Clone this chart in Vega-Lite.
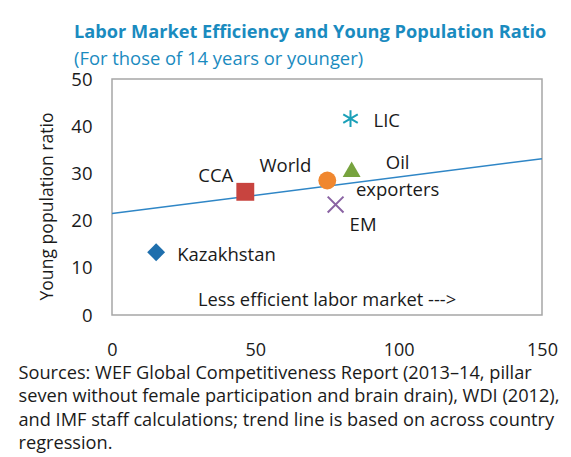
{
  "$schema": "https://vega.github.io/schema/vega-lite/v6.json",
  "autosize": "none",
  "width": 430,
  "height": 236,
  "padding": {"left": 112, "top": 79, "right": 29, "bottom": 142},
  "background": "white",
  "config": {
    "font": "Open Sans",
    "view": {"stroke": "#a6a6a6", "strokeWidth": 1.5},
    "text": {"lineBreak": "\n"}
  },
  "title": {
    "text": "Labor Market Efficiency and Young Population Ratio",
    "subtitle": "(For those of 14 years or younger)",
    "anchor": "start",
    "frame": "group",
    "dx": -38,
    "offset": 1,
    "font": "Open Sans",
    "fontSize": 18.2,
    "fontWeight": "bold",
    "color": "#1a8bbf",
    "subtitleFont": "Open Sans",
    "subtitleFontSize": 18.4,
    "subtitleColor": "#1a8bbf",
    "subtitlePadding": 7
  },
  "datasets": {
    "points": [
      {"name": "Kazakhstan", "label": "Kazakhstan", "efficiency": 15.4, "ratio": 13.3},
      {"name": "CCA", "label": "CCA", "efficiency": 46.5, "ratio": 26.1},
      {"name": "World", "label": "World", "efficiency": 75.1, "ratio": 28.5},
      {"name": "Oil exporters", "label": "Oil\nexporters", "efficiency": 83.6, "ratio": 30.9},
      {"name": "EM", "label": "EM", "efficiency": 78.0, "ratio": 23.4},
      {"name": "LIC", "label": "LIC", "efficiency": 83.2, "ratio": 41.6}
    ],
    "trend": [
      {"efficiency": 0, "ratio": 21.5},
      {"efficiency": 150, "ratio": 33.1}
    ],
    "note": [
      {"efficiency": 75, "ratio": 3, "text": "Less efficient labor market --->"}
    ]
  },
  "encoding": {
    "x": {
      "field": "efficiency",
      "type": "quantitative",
      "scale": {"domain": [0, 150], "nice": false, "zero": false},
      "axis": {
        "values": [0, 50, 100, 150],
        "grid": false,
        "ticks": false,
        "domain": false,
        "labelFontSize": 18,
        "labelColor": "#1a1a1a",
        "labelPadding": 26,
        "labelFlush": false,
        "title": [
          "Sources: WEF Global Competitiveness Report (2013–14, pillar",
          "seven without female participation and brain drain), WDI (2012),",
          "and IMF staff calculations; trend line is based on across country",
          "regression."
        ],
        "titleAnchor": "start",
        "titleAlign": "left",
        "titleBaseline": "top",
        "titleX": -94,
        "titleY": 49,
        "titleFontSize": 18.2,
        "titleFontWeight": "normal",
        "titleColor": "#1a1a1a",
        "titleLineHeight": 23.5
      }
    },
    "y": {
      "field": "ratio",
      "type": "quantitative",
      "scale": {"domain": [0, 50], "nice": false},
      "axis": {
        "values": [0, 10, 20, 30, 40, 50],
        "grid": false,
        "ticks": false,
        "domain": false,
        "labelFontSize": 18.5,
        "labelColor": "#1a1a1a",
        "labelPadding": 20,
        "title": "Young population ratio",
        "titleFontSize": 17.6,
        "titleFontWeight": "normal",
        "titleColor": "#1a1a1a",
        "titleX": -65,
        "titleY": 127,
        "titleBaseline": "middle",
        "titleAlign": "center"
      }
    }
  },
  "layer": [
    {
      "data": {"name": "trend"},
      "mark": {"type": "line", "color": "#2f86c6", "strokeWidth": 1.5},
      "encoding": {}
    },
    {
      "data": {"name": "points"},
      "transform": [{"filter": "datum.name !== 'EM' && datum.name !== 'LIC'"}],
      "mark": {"type": "point", "filled": true, "opacity": 1, "size": 320},
      "encoding": {
        "shape": {
          "field": "name",
          "scale": {
            "domain": ["Kazakhstan", "CCA", "World", "Oil exporters"],
            "range": ["diamond", "square", "circle", "triangle-up"]
          },
          "legend": null
        },
        "color": {
          "field": "name",
          "scale": {
            "domain": ["Kazakhstan", "CCA", "World", "Oil exporters"],
            "range": ["#1f6fad", "#c8443f", "#f0872f", "#77a33e"]
          },
          "legend": null
        }
      }
    },
    {
      "data": {"name": "points"},
      "transform": [{"filter": "datum.name === 'EM'"}],
      "mark": {"type": "point", "shape": "M-1,-1L1,1M-1,1L1,-1", "filled": false, "opacity": 1, "size": 250, "strokeWidth": 2, "color": "#8a63a3"},
      "encoding": {}
    },
    {
      "data": {"name": "points"},
      "transform": [{"filter": "datum.name === 'LIC'"}],
      "mark": {"type": "point", "shape": "M0,-1L0,1M-0.866,-0.5L0.866,0.5M-0.866,0.5L0.866,-0.5", "filled": false, "opacity": 1, "size": 280, "strokeWidth": 2, "color": "#1aa0b8"},
      "encoding": {}
    },
    {
      "data": {"name": "points"},
      "transform": [{"filter": "datum.name === 'Kazakhstan'"}],
      "mark": {"type": "text", "align": "left", "baseline": "middle", "dx": 21, "dy": 3, "fontSize": 18.5, "color": "#1a1a1a"},
      "encoding": {"text": {"field": "label"}}
    },
    {
      "data": {"name": "points"},
      "transform": [{"filter": "datum.name === 'CCA'"}],
      "mark": {"type": "text", "align": "right", "baseline": "middle", "dx": -12, "dy": -16, "fontSize": 18.5, "color": "#1a1a1a"},
      "encoding": {"text": {"field": "label"}}
    },
    {
      "data": {"name": "points"},
      "transform": [{"filter": "datum.name === 'World'"}],
      "mark": {"type": "text", "align": "right", "baseline": "middle", "dx": -16, "dy": -14, "fontSize": 18.5, "color": "#1a1a1a"},
      "encoding": {"text": {"field": "label"}}
    },
    {
      "data": {"name": "points"},
      "transform": [{"filter": "datum.name === 'Oil exporters'"}],
      "mark": {"type": "text", "align": "center", "baseline": "top", "dx": 46, "dy": -15, "fontSize": 18.5, "lineHeight": 27, "color": "#1a1a1a"},
      "encoding": {"text": {"field": "label"}}
    },
    {
      "data": {"name": "points"},
      "transform": [{"filter": "datum.name === 'EM'"}],
      "mark": {"type": "text", "align": "left", "baseline": "middle", "dx": 14, "dy": 20, "fontSize": 18.5, "color": "#1a1a1a"},
      "encoding": {"text": {"field": "label"}}
    },
    {
      "data": {"name": "points"},
      "transform": [{"filter": "datum.name === 'LIC'"}],
      "mark": {"type": "text", "align": "left", "baseline": "middle", "dx": 23, "dy": 2, "fontSize": 18.5, "color": "#1a1a1a"},
      "encoding": {"text": {"field": "label"}}
    },
    {
      "data": {"name": "note"},
      "mark": {"type": "text", "align": "center", "baseline": "middle", "fontSize": 18.3, "color": "#1a1a1a"},
      "encoding": {"text": {"field": "text"}}
    }
  ]
}
